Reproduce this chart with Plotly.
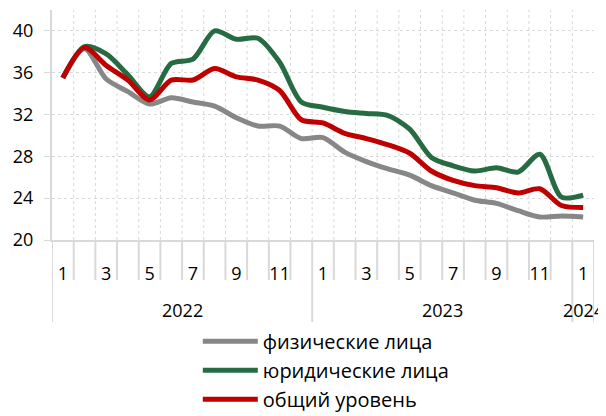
import plotly.graph_objects as go

months = [1,2,3,4,5,6,7,8,9,10,11,12,1,2,3,4,5,6,7,8,9,10,11,12,1]
years = ["2022", "2023", "2024"]
year_first_index = [0, 12, 24]
year_last_index = [11, 23, 24]

fiz = [35.5, 38.3, 35.4, 34.2, 33.0, 33.6, 33.2, 32.8, 31.7, 30.9, 30.9, 29.7,
       29.8, 28.4, 27.5, 26.8, 26.2, 25.2, 24.5, 23.8, 23.5, 22.8, 22.2, 22.3, 22.2]
yur = [35.5, 38.5, 37.8, 35.8, 33.7, 36.9, 37.3, 40.0, 39.2, 39.3, 37.0, 33.2,
       32.7, 32.3, 32.1, 31.9, 30.6, 27.9, 27.1, 26.6, 26.9, 26.5, 28.2, 24.1, 24.3]
total = [35.5, 38.4, 36.7, 35.3, 33.4, 35.3, 35.3, 36.4, 35.6, 35.3, 34.3, 31.5,
         31.2, 30.2, 29.7, 29.1, 28.3, 26.6, 25.7, 25.2, 25.0, 24.5, 24.9, 23.3, 23.1]

series_names = ["физические лица", "юридические лица", "общий уровень"]
series_colors = ["#878787", "#276b43", "#c00000"]
y_ticks = [20, 24, 28, 32, 36, 40]

x = list(range(len(months)))
tick_text = [str(m) if m % 2 == 1 else "" for m in months]

FONT = "'Open Sans', sans-serif"
GRID = "#d9d9d9"

fig = go.Figure()
for i, (name, vals, col) in enumerate(zip(series_names, [fiz, yur, total], series_colors)):
    fig.add_trace(go.Scatter(
        x=x, y=vals, name=name, mode="lines",
        line=dict(color=col, width=5, shape="spline", smoothing=0.8),
        legendgroup=f"g{i}",
    ))

shapes = []
n = len(months)
# vertical dotted gridlines inside plot at category boundaries
for b in range(n - 1):
    shapes.append(dict(type="line", xref="x", yref="paper", x0=b + 0.5, x1=b + 0.5,
                       y0=0, y1=1, line=dict(color=GRID, width=1, dash="dot"), layer="below"))
# separators below axis
year_bounds = set([year_first_index[0] - 0.5] + [li + 0.5 for li in year_last_index])
for b in [k - 0.5 for k in range(n + 1)]:
    y_end = -0.357 if b in year_bounds else -0.174
    shapes.append(dict(type="line", xref="x", yref="paper", x0=b, x1=b,
                       y0=0, y1=y_end, line=dict(color=GRID, width=2)))

annotations = []
for yr, f, l in zip(years, year_first_index, year_last_index):
    annotations.append(dict(x=(f + l) / 2, y=-0.304, xref="x", yref="paper",
                            text=yr, showarrow=False, yanchor="middle",
                            font=dict(family=FONT, size=18, color="#000")))

# page body has an 8px margin; compensate so the plot area lands where it should
fig.update_layout(
    width=598, height=408,
    margin=dict(l=44, r=12, t=2, b=176, autoexpand=False),
    plot_bgcolor="white", paper_bgcolor="white",
    font=dict(family=FONT, size=18, color="#000"),
    shapes=shapes, annotations=annotations,
    showlegend=True,
    legend=dict(orientation="v", x=0.269, xanchor="left", y=-0.355, yanchor="top",
                traceorder="grouped", tracegroupgap=0, itemwidth=55,
                font=dict(family=FONT, size=20, color="#000")),
)
fig.update_xaxes(range=[-0.5, n - 0.5], tickmode="array", tickvals=x, ticktext=tick_text,
                 showgrid=False, zeroline=False, showline=True, linecolor=GRID, linewidth=2,
                 ticks="", ticklabelstandoff=16, tickfont=dict(family=FONT, size=18))
fig.update_yaxes(range=[20, 42], tickmode="array", tickvals=y_ticks,
                 showgrid=True, gridcolor=GRID, griddash="dot", gridwidth=1,
                 zeroline=False, showline=True, linecolor=GRID, linewidth=2,
                 ticks="outside", ticklen=6, tickcolor=GRID, tickwidth=1,
                 ticklabelstandoff=7, tickfont=dict(family=FONT, size=18))

fig.write_html("out.html")
